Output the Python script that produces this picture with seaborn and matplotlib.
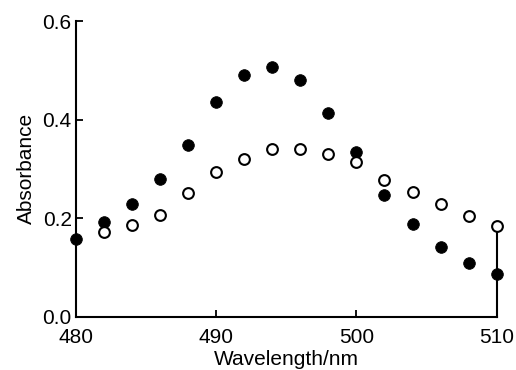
import matplotlib
matplotlib.use("Agg")
import matplotlib.pyplot as plt
import seaborn as sns
import pandas as pd

sns.set_style("ticks")
plt.rcParams["font.family"] = ["Liberation Sans", "DejaVu Sans"]
plt.rcParams["text.color"] = "black"
plt.rcParams["axes.labelcolor"] = "black"

# Absorbance spectra, 480-510 nm
wl_filled = [480, 482, 484, 486, 488, 490, 492, 494, 496, 498, 500, 502, 504, 506, 508, 510]
abs_filled = [0.157, 0.192, 0.229, 0.279, 0.348, 0.436, 0.490, 0.507, 0.480, 0.413,
              0.334, 0.247, 0.188, 0.141, 0.110, 0.086]
wl_open = [482, 484, 486, 488, 490, 492, 494, 496, 498, 500, 502, 504, 506, 508, 510]
abs_open = [0.172, 0.187, 0.207, 0.252, 0.294, 0.321, 0.341, 0.340, 0.330, 0.315,
            0.277, 0.254, 0.228, 0.205, 0.185]

x_ticks = [480, 490, 500, 510]
y_ticks = [0.0, 0.2, 0.4, 0.6]
y_ticklabels = ["0.0", "0.2", "0.4", "0.6"]

df_filled = pd.DataFrame({"wl": wl_filled, "A": abs_filled})
df_open = pd.DataFrame({"wl": wl_open, "A": abs_open})

fig = plt.figure(figsize=(5.16, 3.70), dpi=100)
ax = fig.add_axes([0.147, 0.144, 0.8156, 0.799])

sns.scatterplot(data=df_filled, x="wl", y="A", ax=ax, s=70, color="black",
                edgecolor="black", linewidth=0.6, zorder=3, clip_on=False)
sns.scatterplot(data=df_open, x="wl", y="A", ax=ax, s=60, facecolor="white",
                edgecolor="black", linewidth=1.5, zorder=4, clip_on=False)

ax.set_xlim(480, 510)
ax.set_ylim(0, 0.6)
ax.set_xticks(x_ticks)
ax.set_yticks(y_ticks)
ax.set_yticklabels(y_ticklabels)
ax.set_xlabel("Wavelength/nm", fontsize=15, labelpad=2)
ax.set_ylabel("Absorbance", fontsize=15, labelpad=5)
ax.tick_params(direction="in", length=5, width=1.3, labelsize=15,
               colors="black", labelcolor="black")
ax.tick_params(axis="x", pad=8)
ax.tick_params(axis="y", pad=3)

for side in ["left", "bottom", "right"]:
    ax.spines[side].set_linewidth(1.5)
    ax.spines[side].set_color("black")
ax.spines["top"].set_visible(False)
ax.spines["right"].set_bounds(0, abs_open[-1])

fig.savefig("out.png", dpi=100)
